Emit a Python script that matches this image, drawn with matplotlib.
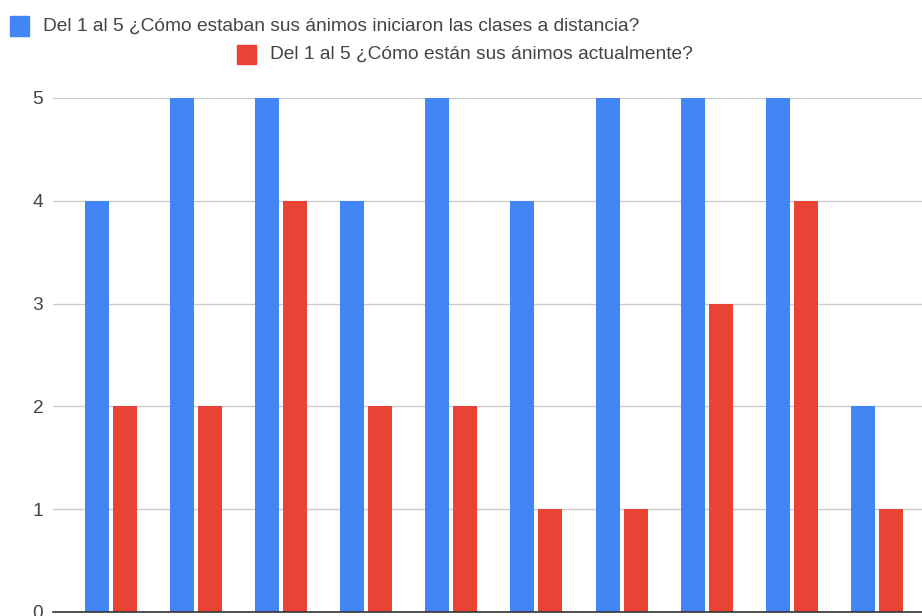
import matplotlib
matplotlib.use('Agg')
from matplotlib import pyplot as plt
from matplotlib.patches import Rectangle
import numpy as np

plt.rcParams['font.family'] = ['Liberation Sans', 'DejaVu Sans']

# data
serie_inicio = [4, 5, 5, 4, 5, 4, 5, 5, 5, 2]
serie_actual = [2, 2, 4, 2, 2, 1, 1, 3, 4, 1]
label_inicio = 'Del 1 al 5 ¿Cómo estaban sus ánimos iniciaron las clases a distancia?'
label_actual = 'Del 1 al 5 ¿Cómo están sus ánimos actualmente?'
y_ticks = [0, 1, 2, 3, 4, 5]

azul = '#4285F4'
rojo = '#EA4335'

W, H = 922, 616
fig = plt.figure(figsize=(W / 100, H / 100), dpi=100)
# axes placed in pixel coords: left 53, bottom at 612, top (y=5) at 98
ax = fig.add_axes([53 / W, (H - 612) / H, (W - 53) / W, (612 - 98) / H])

x = np.arange(len(serie_inicio))
bw = 0.282
gap = 0.047
off = (bw + gap) / 2
ax.bar(x - off, serie_inicio, width=bw, color=azul, zorder=3)
ax.bar(x + off, serie_actual, width=bw, color=rojo, zorder=3)

ax.set_xlim(-0.68, 9.53)
ax.set_ylim(0, 5)
ax.set_yticks(y_ticks)
ax.set_yticklabels([str(t) for t in y_ticks])
ax.set_xticks([])
ax.tick_params(axis='y', length=0, pad=7, labelsize=13.8, labelcolor='#444444')
ax.yaxis.grid(True, color='#cccccc', linewidth=1, zorder=0)
for s in ['top', 'right', 'left']:
    ax.spines[s].set_visible(False)
ax.spines['bottom'].set_color('#333333')
ax.spines['bottom'].set_linewidth(1.2)
ax.spines['bottom'].set_zorder(4)

# legend drawn by hand, two rows like the original
def legend_item(px, py, color, text):
    fig.patches.append(Rectangle((px / W, 1 - (py + 9.5) / H), 19 / W, 19 / H,
                                 transform=fig.transFigure, color=color))
    fig.text((px + 33) / W, 1 - py / H, text, fontsize=13.8, color='#444444',
             va='center', ha='left')

legend_item(10, 26, azul, label_inicio)
legend_item(237, 54.5, rojo, label_actual)

fig.savefig('out.png', dpi=100)
